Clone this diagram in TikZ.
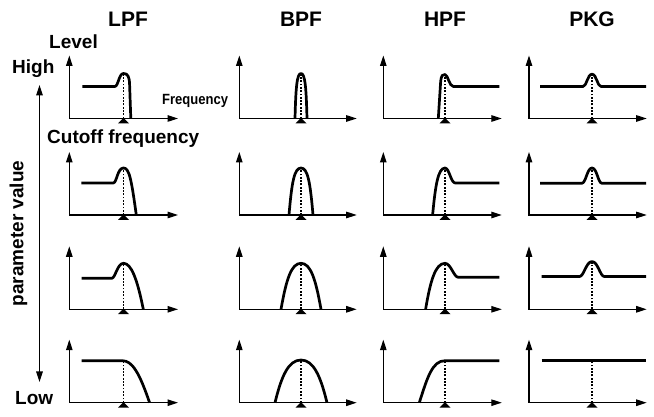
\documentclass[tikz,border=0pt]{standalone}
\usepackage{fontspec}
\setmainfont{Liberation Sans}
\usetikzlibrary{arrows.meta}
\tikzset{
  tip/.style={Triangle[length=10.5pt,width=6.5pt]},
  axis/.style={line width=1.15pt, line join=miter, {Triangle[length=10.5pt,width=6.5pt]}-{Triangle[length=10.5pt,width=6.5pt]}},
  cutline/.style={line width=1.3pt, dash pattern=on 1.8pt off 1.5pt},
  curve/.style={line width=2.7pt, line join=round, line cap=butt},
  title/.style={font=\bfseries\fontsize{21}{23}\selectfont, anchor=base, inner sep=0pt},
  lab/.style={font=\bfseries\fontsize{19}{21}\selectfont, anchor=base west, inner sep=0pt},
}
% #1 x, #2 y, #3 axis length, #4 cutoff dx, #5 dotted top, #6 curve path
\newcommand\fpanel[6]{%
  \begin{scope}[shift={(#1,#2)}]
    \draw[axis] (0,63) -- (0,0) -- (#3,0);
    \draw[cutline] (#4,0) -- (#4,#5);
    \draw[curve] #6;
    \fill (#4,0.6) -- ++(5.5,-5.5) -- ++(-11,0) -- cycle;
  \end{scope}}
\begin{document}
\begin{tikzpicture}[x=1pt,y=1pt]
\useasboundingbox (0,0) rectangle (654,417);
% titles
\node[title] (tLPF) at (128,390.3) {LPF};
\node[title] (tBPF) at (301,390.3) {BPF};
\node[title] (tHPF) at (445,390.3) {HPF};
\node[title] (tPKG) at (592,390.3) {PKG};
% labels
\node[lab] (level) at (49,368.7) {Level};
\node[lab] (high) at (12,343) {High};
\node[lab] (cutoff) at (47,273) {Cutoff frequency};
\node[lab] (low) at (15,12) {Low};
\node[anchor=base west, inner sep=0pt, font=\bfseries\fontsize{14.8}{16}\selectfont] (freq) at (162,312) {\scalebox{0.88}[1]{Frequency}};
\node[rotate=90, inner sep=0pt, font=\bfseries\fontsize{19}{21}\selectfont] (param) at (18.5,183.5) {parameter value};
% parameter arrow
\coordinate (ptop) at (39.5,332);
\coordinate (pbot) at (39.5,35);
\draw[line width=1.15pt, {Triangle[length=10.5pt,width=6.5pt]}-{Triangle[length=10.5pt,width=6.5pt]}] (ptop) -- (pbot);
% LPF
\fpanel{69.3}{298.5}{108.7}{54.2}{44}{(13,32) -- (45.5,32) .. controls (49,32) and (49.5,45) .. (54.2,45) .. controls (58.5,45) and (60,42) .. (60.3,34) -- (61.5,0)}
\fpanel{69.3}{202}{108.7}{54.2}{46}{(12,32) -- (44,32) .. controls (47.5,32) and (48,47) .. (54.2,47) .. controls (60,47) and (62,36) .. (67,0)}
\fpanel{69.3}{107.7}{108.7}{54.2}{45}{(12.4,31) -- (42.4,31) .. controls (46,31) and (48,46) .. (54.2,46) .. controls (62,46) and (68,30) .. (74,0)}
\fpanel{69.3}{14.3}{108.7}{54.2}{41}{(12.4,42) -- (53,42) .. controls (63,42) and (70,30) .. (80.3,0)}
% BPF
\fpanel{239.3}{298.5}{117.4}{61.7}{44}{(55.7,0) .. controls (56.5,30) and (57.5,45) .. (61.7,45) .. controls (65.9,45) and (66.9,30) .. (67.7,0)}
\fpanel{239.3}{202}{117.4}{61.7}{46}{(49.7,0) .. controls (52.5,33) and (55,47) .. (61.7,47) .. controls (68.4,47) and (70.9,33) .. (73.7,0)}
\fpanel{239.3}{107.7}{117.4}{61.7}{45}{(41.7,0) .. controls (47,30) and (52,46) .. (61.7,46) .. controls (71.4,46) and (76.4,30) .. (81.7,0)}
\fpanel{239.3}{14.3}{117.4}{61.7}{42}{(35.7,0) .. controls (42,26) and (49,42.7) .. (61.7,42.7) .. controls (74.4,42.7) and (81.4,26) .. (87.7,0)}
% HPF
\fpanel{383.3}{298.5}{118.5}{61.7}{43}{(55,0) -- (57.3,36) .. controls (58,44) and (59.5,44) .. (61.7,44) .. controls (64.5,44) and (66,32) .. (70,32) -- (116,32)}
\fpanel{383.3}{202}{118.5}{61.7}{46}{(49.3,0) .. controls (52,28) and (54.5,47) .. (61.7,47) .. controls (66,47) and (67.5,32) .. (72,32) -- (116,32)}
\fpanel{383.3}{107.7}{118.5}{61.7}{45}{(42.3,0) .. controls (47,28) and (52,46) .. (61.7,46) .. controls (67.5,46) and (70.5,32) .. (75,32) -- (116,32)}
\fpanel{383.3}{14.3}{118.5}{61.7}{41}{(36,0) .. controls (44,25) and (49,42) .. (61.7,42) -- (116,42)}
% PKG
\fpanel{529}{298.5}{117.7}{63}{43}{(11,32) -- (54,32) .. controls (57.5,32) and (58.5,44.3) .. (63,44.3) .. controls (67.5,44.3) and (68.5,32) .. (72,32) -- (117,32)}
\fpanel{529}{202}{117.7}{63}{46}{(11,31.7) -- (52.7,31.7) .. controls (57,31.7) and (58,47) .. (63,47) .. controls (68,47) and (69,31.7) .. (73,31.7) -- (117,31.7)}
\fpanel{529}{107.7}{117.7}{63}{46.5}{(12.7,32.7) -- (50.3,32.7) .. controls (55,32.7) and (57,47.7) .. (63,47.7) .. controls (69,47.7) and (71,32.7) .. (75.5,32.7) -- (117,32.7)}
\fpanel{529}{14.3}{117.7}{63}{41}{(12.7,42) -- (117,42)}
\end{tikzpicture}
\end{document}
